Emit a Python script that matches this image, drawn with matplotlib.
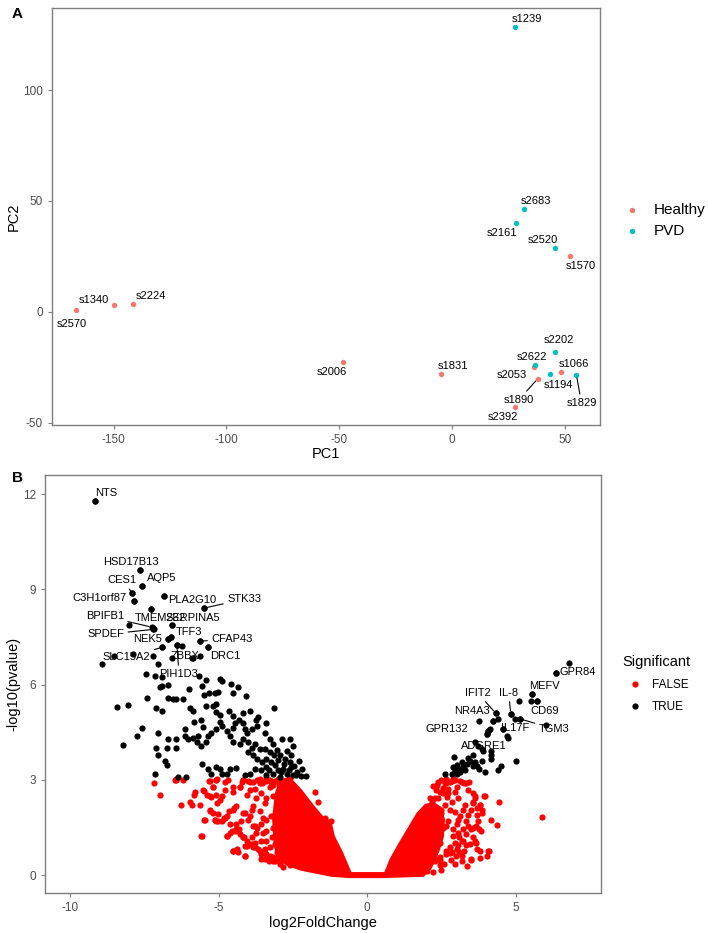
import matplotlib.pyplot as plt
from matplotlib.lines import Line2D

plt.rcParams['font.family'] = ['Liberation Sans', 'DejaVu Sans']
plt.rcParams['axes.unicode_minus'] = False

# ---- panel A: PCA ----
samples = ['s2570', 's1340', 's2224', 's2006', 's1831', 's1570', 's2053', 's1890', 's1066', 's2392',
           's1239', 's2683', 's2161', 's2520', 's2202', 's2622', 's1194', 's1829']
pc1 = [-166.5, -150.0, -141.2, -48.4, -4.7, 52.2, 36.3, 38.0, 48.4, 27.8,
       27.9, 32.0, 28.5, 45.6, 45.7, 36.8, 43.6, 55.2]
pc2 = [0.8, 2.9, 3.5, -22.6, -28.1, 25.4, -25.0, -30.2, -27.1, -42.8,
       128.6, 46.2, 40.1, 29.0, -17.9, -24.0, -28.2, -28.6]
group = ['Healthy'] * 10 + ['PVD'] * 8
group_colors = {'Healthy': '#F8766D', 'PVD': '#00BFC4'}

# label offsets in pixels (dx, dy) and whether a segment is drawn
sample_offsets = {
    's2570': (-5, -14, False), 's1340': (-20, 5, False), 's2224': (18, 8, False),
    's2006': (-11, -10, False), 's1831': (12, 8, False), 's1570': (11, -10, False),
    's2053': (-22, -8, False), 's1890': (-19, -21, True), 's1066': (13, 8, False),
    's2392': (-12, -10, False), 's1239': (12, 8, False), 's2683': (12, 8, False),
    's2161': (-14, -10, False), 's2520': (-12, 8, False), 's2202': (4, 12, False),
    's2622': (-3, 8, False), 's1194': (8, -11, False), 's1829': (5, -28, True),
}

# ---- panel B: volcano ----
black_fc = [-9.17, -7.64, -7.56, -7.90, -7.86, -6.82, -7.29, -5.48, -8.01, -7.22, -7.18, -6.56, -6.71, -6.59,
            -5.62, -5.37, -6.40, -6.22, -6.57, -5.88, -5.63, -8.51, -7.87, -7.22, -6.92, -8.91, -7.05, -6.92,
            -7.45, -7.14, -5.65, -5.41, -4.96, -4.87, -4.59, -4.36, -8.43, -8.04, -7.42, -7.09, -6.90, -6.98,
            -6.90, -6.70, -6.70, -6.53, -6.42, -6.19, -5.99, -5.57, -5.50, -5.32, -5.13, -5.01, -4.53, -4.08,
            -5.97, -5.85, -5.41, -5.18, -5.07, -5.09, -4.96, -4.64, -4.51, -4.19, -3.93, -3.75, -3.67, -3.14,
            -3.41, -7.56, -7.76, -8.21, -7.03, -7.09, -6.75, -6.70, -6.42, -6.42, -6.14, -6.14, -6.02, -5.82,
            -5.60, -5.54, -5.69, -5.60, -5.41, -5.35, -5.24, -5.07, -4.96, -4.87, -4.73, -4.62, -4.51, -4.45,
            -4.31, -4.17, -4.12, -4.06, -3.89, -3.72, -3.44, -3.27, -3.16, -2.88, -2.60, -2.49, -4.51, -4.28,
            -4.17, -4.00, -3.89, -3.78, -3.61, -3.44, -3.27, -3.14, -2.94, -2.77, -2.60, -2.55, -4.00, -3.84,
            -3.72, -3.39, -3.22, -3.11, -2.99, -2.83, -2.71, -2.49, -2.21, -7.03, -6.81, -6.75, -7.14, -6.36,
            -6.08, -5.57, -5.35, -5.27, -5.07, -4.96, -4.90, -4.73, -4.62, -4.40, -4.12, -3.95, -3.78, -3.56,
            -3.39, -3.16, -2.94, -5.85, -5.74, -2.35, -2.45, -2.62, -2.80, -3.00, -2.20, -2.30, -2.55, -2.70,
            -3.05, -3.40, -3.55, -2.90, -3.30, -2.40, -2.05,
            6.80, 6.37, 5.56, 5.53, 5.72, 5.12, 4.83, 4.32, 4.24, 4.41, 4.98, 5.15, 6.03, 3.75, 4.58, 4.69,
            4.75, 4.02, 4.07, 4.13, 3.62, 3.74, 3.85, 3.90, 4.18, 4.18, 4.18, 5.01, 2.93, 3.57, 3.46, 3.37,
            3.23, 3.01, 3.06, 2.95, 2.61, 2.84, 3.01, 3.14, 3.96, 4.41, 4.49, 3.68, 3.62, 2.90, 3.20, 3.30,
            3.40, 3.55, 3.75, 3.85]
black_p = [11.79, 9.62, 9.09, 8.88, 8.62, 8.80, 8.37, 8.41, 7.89, 7.79, 7.74, 7.88, 7.43, 7.50,
           7.37, 7.17, 7.24, 7.21, 6.84, 6.84, 6.89, 6.91, 6.95, 6.91, 7.17, 6.65, 6.65, 6.24,
           6.32, 6.26, 6.28, 6.14, 6.19, 6.12, 6.02, 5.93, 5.29, 5.36, 5.59, 5.26, 5.16, 5.93,
           5.95, 6.00, 5.57, 5.55, 5.55, 5.55, 5.85, 5.95, 5.66, 5.73, 5.73, 5.78, 5.73, 5.64,
           5.26, 5.16, 5.34, 5.34, 5.40, 5.13, 5.06, 5.16, 5.01, 5.11, 5.16, 4.90, 4.98, 5.25,
           4.80, 4.64, 4.37, 4.10, 4.49, 4.02, 4.02, 4.28, 4.28, 4.02, 4.59, 4.39, 4.28, 4.82,
           4.90, 4.67, 4.39, 4.08, 4.18, 4.39, 4.47, 4.59, 4.82, 4.70, 4.54, 4.39, 4.64, 4.78,
           4.90, 4.80, 4.59, 4.49, 4.59, 4.70, 4.49, 4.28, 4.13, 4.28, 4.28, 4.08, 4.18, 4.13,
           4.28, 4.18, 4.02, 4.13, 3.97, 3.97, 3.87, 3.77, 3.77, 3.66, 3.56, 3.41, 3.87, 3.77,
           3.66, 3.66, 3.56, 3.46, 3.30, 3.35, 3.20, 3.17, 3.13, 3.77, 3.61, 3.46, 3.20, 3.10,
           3.10, 3.51, 3.33, 3.20, 3.41, 3.35, 3.20, 3.20, 3.35, 3.37, 3.15, 3.20, 3.35, 3.30,
           3.15, 3.20, 3.10, 4.33, 4.18, 3.25, 3.45, 3.30, 3.50, 3.62, 3.35, 3.60, 3.80, 3.90,
           3.95, 3.40, 3.55, 3.25, 3.30, 3.15, 3.12,
           6.69, 6.36, 5.69, 5.49, 5.49, 5.50, 5.09, 5.11, 4.85, 4.92, 4.92, 4.92, 4.72, 4.85, 4.59, 4.39,
           4.31, 4.44, 4.54, 4.59, 4.18, 4.08, 3.97, 3.92, 3.92, 3.77, 3.66, 3.61, 3.72, 3.77, 3.61, 3.51,
           3.41, 3.46, 3.35, 3.30, 3.20, 3.20, 3.20, 3.25, 3.25, 3.30, 3.44, 3.44, 3.56, 3.40, 3.55, 3.30,
           3.70, 3.45, 3.35, 3.60]

red_fc = [-7.18, -6.97, -6.44, -6.19, -6.27, -5.96, -5.91, -5.82, -5.78, -5.63, -5.49, -5.40, -5.29, -5.26,
          -5.49, -5.59, -5.31, -5.06, -5.19, -5.08, -5.04, -4.90, -4.79, -5.12, -5.01, -4.81, -4.73, -4.62,
          -4.39, -4.30, -4.64, -4.47, -4.51, -4.28, -4.17, -4.53, -4.39, -4.12, -4.15, -4.04, -3.95, -3.78,
          -3.67, -3.56, -3.44, -3.30, -3.16, -4.23, -4.12, -4.00, -3.89, -3.78, -3.70, -3.61, -3.52, -3.50,
          -3.41, -3.39, -4.04, -3.93, -3.78, -3.61, -3.52, -3.27, -3.16, -2.99, -3.18, -3.21, -3.27, -3.10,
          -3.05, -3.07, -6.45, -5.18, -5.01, -4.73, -5.07, -4.90, -4.62, -4.40, -4.46, -4.28, -4.17, -4.06,
          -3.89, -3.78, -3.61, -3.39, -3.27, -3.11, -2.94, -2.83, -2.60, -2.49, -2.27, -2.15, -4.20, -4.00,
          -3.85, -3.70, -3.55, -3.40, -3.25, -3.10, -2.95, -6.44, -5.29, -5.07, -4.68,
          -5.52, -5.18, -5.07, -4.79, -5.29, -4.96, -4.51, -4.28, -4.17, -3.95, -5.46, -5.12, -4.79, -5.29,
          -4.51, -4.40, -4.17, -3.95, -3.84, -3.73, -3.56, -3.45, -3.27, -3.16, -5.57, -4.73, -4.56, -4.40,
          -4.17, -3.89, -3.73, -3.84, -3.56, -3.39, -3.22, -4.51, -4.34, -4.12, -3.84, -4.12, -3.56, -3.45,
          -3.27, -3.56, -3.16, -2.94, -2.60, -2.26, -3.39, -3.11, -2.99, -2.99, -2.83, -2.60, -3.61, -3.39,
          -3.00, -1.76, -1.65, -1.42, -1.20,
          5.89, 4.43, 4.18, 4.38, 3.49, 3.79, 4.04, 4.11, 3.96, 3.79, 3.70, 3.85, 3.66, 3.77, 3.82,
          3.55, 3.62, 3.57, 3.48, 3.40, 3.34, 3.49, 3.57, 3.65, 3.34, 3.18, 3.25, 3.10, 2.98, 2.81, 2.45,
          2.65, 2.78, 3.06, 3.23, 3.06, 2.89, 3.01, 3.12, 3.23, 3.29, 3.06, 2.95, 2.36, 2.50, 2.67, 2.84,
          3.01, 3.18, 3.34, 3.40, 2.89, 2.73, 2.56, 2.39, 2.61, 2.78, 2.47, 2.34, 2.54, 2.73, 3.94, 2.65,
          2.78, 2.95, 3.12, 3.26, 3.43, 2.33, 2.45, 2.28, 2.17, 2.09, 2.11, 3.63, 3.57, 3.79, 3.85, 3.68,
          3.74, 3.57, 3.40, 3.34, 3.23, 3.46, 3.62, 3.68, 3.79, 4.07, 3.51, 3.18, 3.01, 2.84, 2.67, 2.45,
          2.28, 2.11, 2.33, 2.61, 2.72, 2.50, 2.67, 2.45, 2.33, 1.66, 2.45, 2.20, 2.40, 2.55, 2.70, 2.85,
          2.95, 3.05, 2.90, 3.10, 2.95, 2.80, 2.60, 2.95, 3.20, 3.35, 2.50, 2.20, 2.00]
red_p = [2.89, 2.53, 3.04, 2.99, 2.22, 2.32, 2.22, 2.53, 2.63, 2.22, 2.65, 2.53, 2.01, 2.45,
         1.73, 1.23, 2.96, 3.02, 2.79, 2.53, 2.27, 2.48, 2.69, 1.75, 1.70, 1.81, 1.24, 1.34,
         1.41, 1.44, 2.01, 2.12, 2.79, 2.77, 2.99, 0.77, 0.83, 0.62, 1.19, 0.93, 0.98, 1.03,
         0.83, 0.67, 0.52, 0.46, 0.57, 1.70, 1.96, 1.75, 2.06, 1.55, 1.49, 2.01, 1.34, 1.80,
         2.43, 1.08, 2.53, 2.68, 2.73, 2.89, 2.94, 2.99, 2.84, 2.99, 1.49, 1.19, 0.88, 0.98,
         0.72, 1.29, 3.01, 1.96, 1.93, 1.86, 1.70, 1.70, 1.60, 1.60, 1.39, 1.29, 1.19, 1.08,
         0.98, 0.88, 0.77, 0.67, 0.57, 0.46, 0.36, 0.26, 0.31, 0.46, 0.34, 0.46, 2.95, 2.98,
         2.92, 2.99, 2.90, 2.97, 2.92, 2.98, 2.90, 3.00, 2.98, 3.00, 3.00,
         2.68, 2.79, 2.99, 2.94, 2.48, 2.37, 2.63, 2.79, 2.99, 2.94, 1.75, 1.75, 1.81, 2.06,
         2.06, 2.17, 1.96, 1.86, 2.17, 2.43, 2.58, 2.27, 2.79, 2.48, 1.24, 1.24, 1.39, 1.44,
         1.19, 1.19, 1.34, 1.55, 1.60, 1.75, 1.86, 0.77, 0.72, 0.93, 0.88, 0.62, 1.08, 0.83,
         0.62, 0.52, 0.46, 0.52, 0.41, 0.31, 1.39, 1.55, 1.14, 0.83, 2.79, 3.05, 3.04, 3.05,
         3.04, 2.63, 2.32, 1.81, 1.70,
         1.84, 2.32, 1.75, 1.58, 0.49, 0.55, 0.59, 0.75, 2.48, 2.22, 2.12, 1.96, 1.55, 1.47, 1.39,
         2.58, 2.43, 2.27, 2.06, 1.91, 1.70, 1.44, 1.21, 1.03, 0.96, 1.08, 0.77, 0.72, 0.62, 0.49, 0.49,
         0.77, 0.88, 0.96, 1.44, 1.34, 1.24, 1.60, 1.86, 2.06, 2.22, 2.43, 2.63, 2.84, 2.99, 2.89, 2.96,
         2.79, 2.94, 2.89, 2.68, 3.04, 2.73, 2.58, 2.43, 2.22, 2.06, 1.96, 1.81, 1.50, 1.70, 2.48, 3.04,
         2.94, 2.99, 2.96, 2.89, 2.94, 2.79, 2.63, 2.43, 2.32, 2.12, 1.91, 2.48, 2.32, 2.22, 2.06, 1.91,
         1.70, 1.50, 1.55, 1.29, 1.08, 0.98, 1.08, 0.83, 0.77, 0.77, 0.52, 0.62, 0.83, 0.72, 0.67, 0.57,
         0.46, 2.43, 2.68, 2.89, 2.58, 2.06, 1.55, 1.03, 0.52, 0.31, 0.31, 2.80, 2.95, 2.75, 2.45, 2.30,
         2.00, 1.75, 1.45, 1.20, 1.00, 0.70, 0.35, 0.35, 0.45, 0.30, 0.15, 0.10, 0.12]

# outline of the solid mass of overlapping non-significant genes
core_fc = [-3.10, -2.95, -2.60, -2.49, -2.20, -1.93, -1.70, -1.48, -1.20, -1.09, -0.81, -0.53,
           0.58, 0.76, 1.05, 1.33, 1.66, 1.95, 2.25, 2.50, 2.62, 2.58, 2.45, 2.30, 2.15, 1.90,
           0.50, -0.60, -1.20, -2.26, -2.70, -3.05, -3.15, -3.20]
core_p = [2.60, 3.02, 3.10, 2.99, 2.70, 2.37, 2.10, 1.86, 1.70, 1.24, 0.72, 0.10,
          0.10, 0.52, 1.00, 1.44, 1.96, 2.25, 2.30, 2.15, 1.75, 1.20, 0.80, 0.45, 0.18, -0.05,
          -0.09, -0.09, -0.05, 0.15, 0.30, 0.50, 1.00, 1.80]

genes = ['NTS', 'HSD17B13', 'AQP5', 'CES1', 'C3H1orf87', 'PLA2G10', 'STK33', 'BPIFB1', 'SPDEF',
         'TMEM232', 'SERPINA5', 'NEK5', 'TFF3', 'CFAP43', 'DRC1', 'ZBBX', 'PIH1D3', 'SLC15A2',
         'GPR84', 'MEFV', 'CD69', 'IL-8', 'IFIT2', 'NR4A3', 'GPR132', 'IL17F', 'TGM3', 'ADGRE1']
gene_fc = [-9.17, -7.64, -7.56, -7.90, -7.86, -6.82, -5.48, -7.25, -7.19,
           -7.29, -6.56, -6.71, -6.59, -5.62, -5.37, -5.85, -6.40, -6.92,
           6.37, 5.56, 5.72, 4.83, 4.32, 4.24, 4.07, 4.58, 5.15, 4.02]
gene_p = [11.79, 9.62, 9.09, 8.88, 8.62, 8.80, 8.41, 7.81, 7.74,
          8.37, 7.88, 7.43, 7.50, 7.37, 7.17, 6.84, 7.24, 7.17,
          6.36, 5.69, 5.49, 5.09, 5.11, 4.85, 4.54, 4.59, 4.92, 4.44]
gene_offsets = {
    'NTS': (12, 8, False), 'HSD17B13': (-9, 8, False), 'AQP5': (19, 8, False),
    'CES1': (-10, 13, True), 'C3H1orf87': (-34, 3, False), 'PLA2G10': (28, -4, False),
    'STK33': (40, 9, True), 'BPIFB1': (-47, 11, True), 'SPDEF': (-48, -5, True),
    'TMEM232': (10, -9, False), 'SERPINA5': (21, 7, False), 'NEK5': (-20, 0, False),
    'TFF3': (18, 5, False), 'CFAP43': (32, 2, True), 'DRC1': (18, -9, False),
    'ZBBX': (-8, 2, False), 'PIH1D3': (2, -29, True), 'SLC15A2': (-35, -10, True),
    'GPR84': (21, 1, False), 'MEFV': (12, 8, False), 'CD69': (7, -10, False),
    'IL-8': (-2, 21, True), 'IFIT2': (-18, 20, True), 'NR4A3': (-21, 10, False),
    'GPR132': (-41, 2, False), 'IL17F': (12, 1, False), 'TGM3': (34, -10, True),
    'ADGRE1': (-3, -12, True),
}

fig = plt.figure(figsize=(7.08, 9.33), dpi=100)
axA = fig.add_axes([0.0734, 0.5445, 0.774, 0.4469])
axB = fig.add_axes([0.0636, 0.0425, 0.7853, 0.4484])


def style_axes(ax):
    for s in ax.spines.values():
        s.set_color('#7f7f7f')
        s.set_linewidth(1.0)
    ax.tick_params(colors='#7f7f7f', labelcolor='#4d4d4d', labelsize=8.5, length=3, width=0.8)


def label_point(ax, text, x, y, off):
    dx, dy, seg = off
    props = dict(arrowstyle='-', color='black', lw=0.8, shrinkA=1, shrinkB=2) if seg else None
    ax.annotate(text, (x, y), xytext=(dx, dy), textcoords='offset pixels',
                ha='center', va='center', fontsize=8, arrowprops=props)


# panel A
for g in ['Healthy', 'PVD']:
    xs = [x for x, gg in zip(pc1, group) if gg == g]
    ys = [y for y, gg in zip(pc2, group) if gg == g]
    axA.scatter(xs, ys, s=15, color=group_colors[g], linewidths=0, label=g, zorder=3)
for name, x, y in zip(samples, pc1, pc2):
    label_point(axA, name, x, y, sample_offsets[name])
axA.set_xlim(-177.3, 65.6)
axA.set_ylim(-51, 137)
axA.set_xticks([-150, -100, -50, 0, 50])
axA.set_yticks([-50, 0, 50, 100])
axA.set_xlabel('PC1', fontsize=10.5, labelpad=1)
axA.set_ylabel('PC2', fontsize=10.5, labelpad=2)
style_axes(axA)
axA.legend(loc='center left', bbox_to_anchor=(1.005, 0.49), frameon=False, fontsize=11,
           handletextpad=0.45, labelspacing=0.45, markerscale=1.0)

# panel B
axB.fill(core_fc, core_p, color='red', lw=0, zorder=2)
axB.scatter(red_fc, red_p, s=20, color='red', linewidths=0, zorder=3)
axB.scatter(black_fc, black_p, s=20, color='black', linewidths=0, zorder=4)
axB.scatter(gene_fc, gene_p, s=20, color='black', linewidths=0, zorder=4)
for name, x, y in zip(genes, gene_fc, gene_p):
    label_point(axB, name, x, y, gene_offsets[name])
axB.set_xlim(-10.84, 7.87)
axB.set_ylim(-0.57, 12.6)
axB.set_xticks([-10, -5, 0, 5])
axB.set_yticks([0, 3, 6, 9, 12])
axB.set_xlabel('log2FoldChange', fontsize=10.5, labelpad=1)
axB.set_ylabel('-log10(pvalue)', fontsize=10.5, labelpad=2)
style_axes(axB)
handles = [Line2D([], [], marker='o', ls='', color='red', markersize=4.5, markeredgewidth=0),
           Line2D([], [], marker='o', ls='', color='black', markersize=4.5, markeredgewidth=0)]
legB = axB.legend(handles, ['FALSE', 'TRUE'], title='Significant', loc='center left',
                  bbox_to_anchor=(1.02, 0.50), frameon=False, fontsize=8.5, title_fontsize=10.5,
                  handletextpad=0.45, labelspacing=0.85)
legB._legend_box.align = 'left'

fig.text(12 / 708, 1 - 14 / 933, 'A', fontsize=11, fontweight='bold', ha='left', va='center')
fig.text(12 / 708, 1 - 478 / 933, 'B', fontsize=11, fontweight='bold', ha='left', va='center')

fig.savefig('out.png', dpi=100)
